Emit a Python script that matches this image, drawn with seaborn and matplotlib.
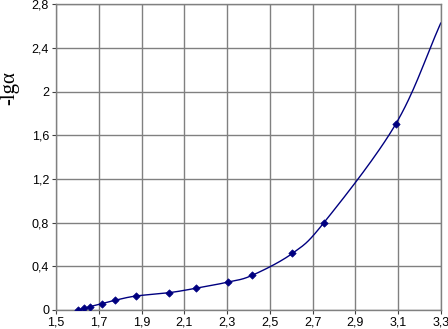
import numpy as np
import pandas as pd
import matplotlib
matplotlib.use("Agg")
import matplotlib.pyplot as plt
import seaborn as sns

# data
x_vals = [1.604, 1.631, 1.657, 1.713, 1.776, 1.874, 2.028, 2.157, 2.305, 2.417, 2.606, 2.752, 3.089]
y_vals = [0.0, 0.015, 0.03, 0.057, 0.089, 0.128, 0.158, 0.200, 0.256, 0.317, 0.519, 0.797, 1.703]
# curve continues to the right edge (no marker)
x_end = [3.30]
y_end = [2.63]

x_ticks = [1.5, 1.7, 1.9, 2.1, 2.3, 2.5, 2.7, 2.9, 3.1, 3.3]
x_labels = ["1,5", "1,7", "1,9", "2,1", "2,3", "2,5", "2,7", "2,9", "3,1", "3,3"]
y_ticks = [0, 0.4, 0.8, 1.2, 1.6, 2.0, 2.4, 2.8]
y_labels = ["0", "0,4", "0,8", "1,2", "1,6", "2", "2,4", "2,8"]

sns.set_theme(style="white")
plt.rcParams["font.family"] = ["Liberation Sans", "DejaVu Sans"]

fig = plt.figure(figsize=(4.48, 3.29), dpi=100)
ax = fig.add_axes([0.125, 0.0578, 0.859, 0.929])

# smooth curve (Catmull-Rom through the points, like Excel's smoothed line)
px = np.array(x_vals + x_end)
py = np.array(y_vals + y_end)
P = np.column_stack([px, py])
P = np.vstack([P[0] - (P[1] - P[0]), P, P[-1] + (P[-1] - P[-2])])
cx, cy = [], []
for i in range(1, len(P) - 2):
    p0, p1, p2, p3 = P[i - 1], P[i], P[i + 1], P[i + 2]
    t = np.linspace(0, 1, 30)[:, None]
    seg = 0.5 * ((2 * p1) + (-p0 + p2) * t + (2 * p0 - 5 * p1 + 4 * p2 - p3) * t ** 2
                 + (-p0 + 3 * p1 - 3 * p2 + p3) * t ** 3)
    cx.extend(seg[:, 0]); cy.extend(seg[:, 1])
curve = pd.DataFrame({"x": cx, "y": cy})
sns.lineplot(data=curve, x="x", y="y", ax=ax, color="#000080", linewidth=1.0,
             sort=False, estimator=None)

pts = pd.DataFrame({"x": x_vals, "y": y_vals})
sns.scatterplot(data=pts, x="x", y="y", ax=ax, marker="D", s=14, color="#000080",
                edgecolor="#000080", linewidth=0.5, zorder=5)

ax.set_xlim(1.5, 3.3)
ax.set_ylim(0, 2.8)
ax.set_xticks(x_ticks)
ax.set_xticklabels(x_labels)
ax.set_yticks(y_ticks)
ax.set_yticklabels(y_labels)
ax.grid(True, color="#808080", linewidth=1.0)
ax.set_axisbelow(True)
for s in ax.spines.values():
    s.set_color("#808080")
    s.set_linewidth(1.0)
ax.tick_params(axis="both", which="both", direction="out", length=3, width=0.8,
               color="#404040", labelsize=9, labelcolor="black", pad=2,
               bottom=True, left=True)
ax.set_xlabel("")
ax.set_ylabel("")

fig.text(0.022, 0.733, "-lgα", rotation=90, ha="center", va="center",
         fontsize=15, family=["Liberation Serif", "DejaVu Serif"], color="black")

fig.savefig("out.png", dpi=100)
